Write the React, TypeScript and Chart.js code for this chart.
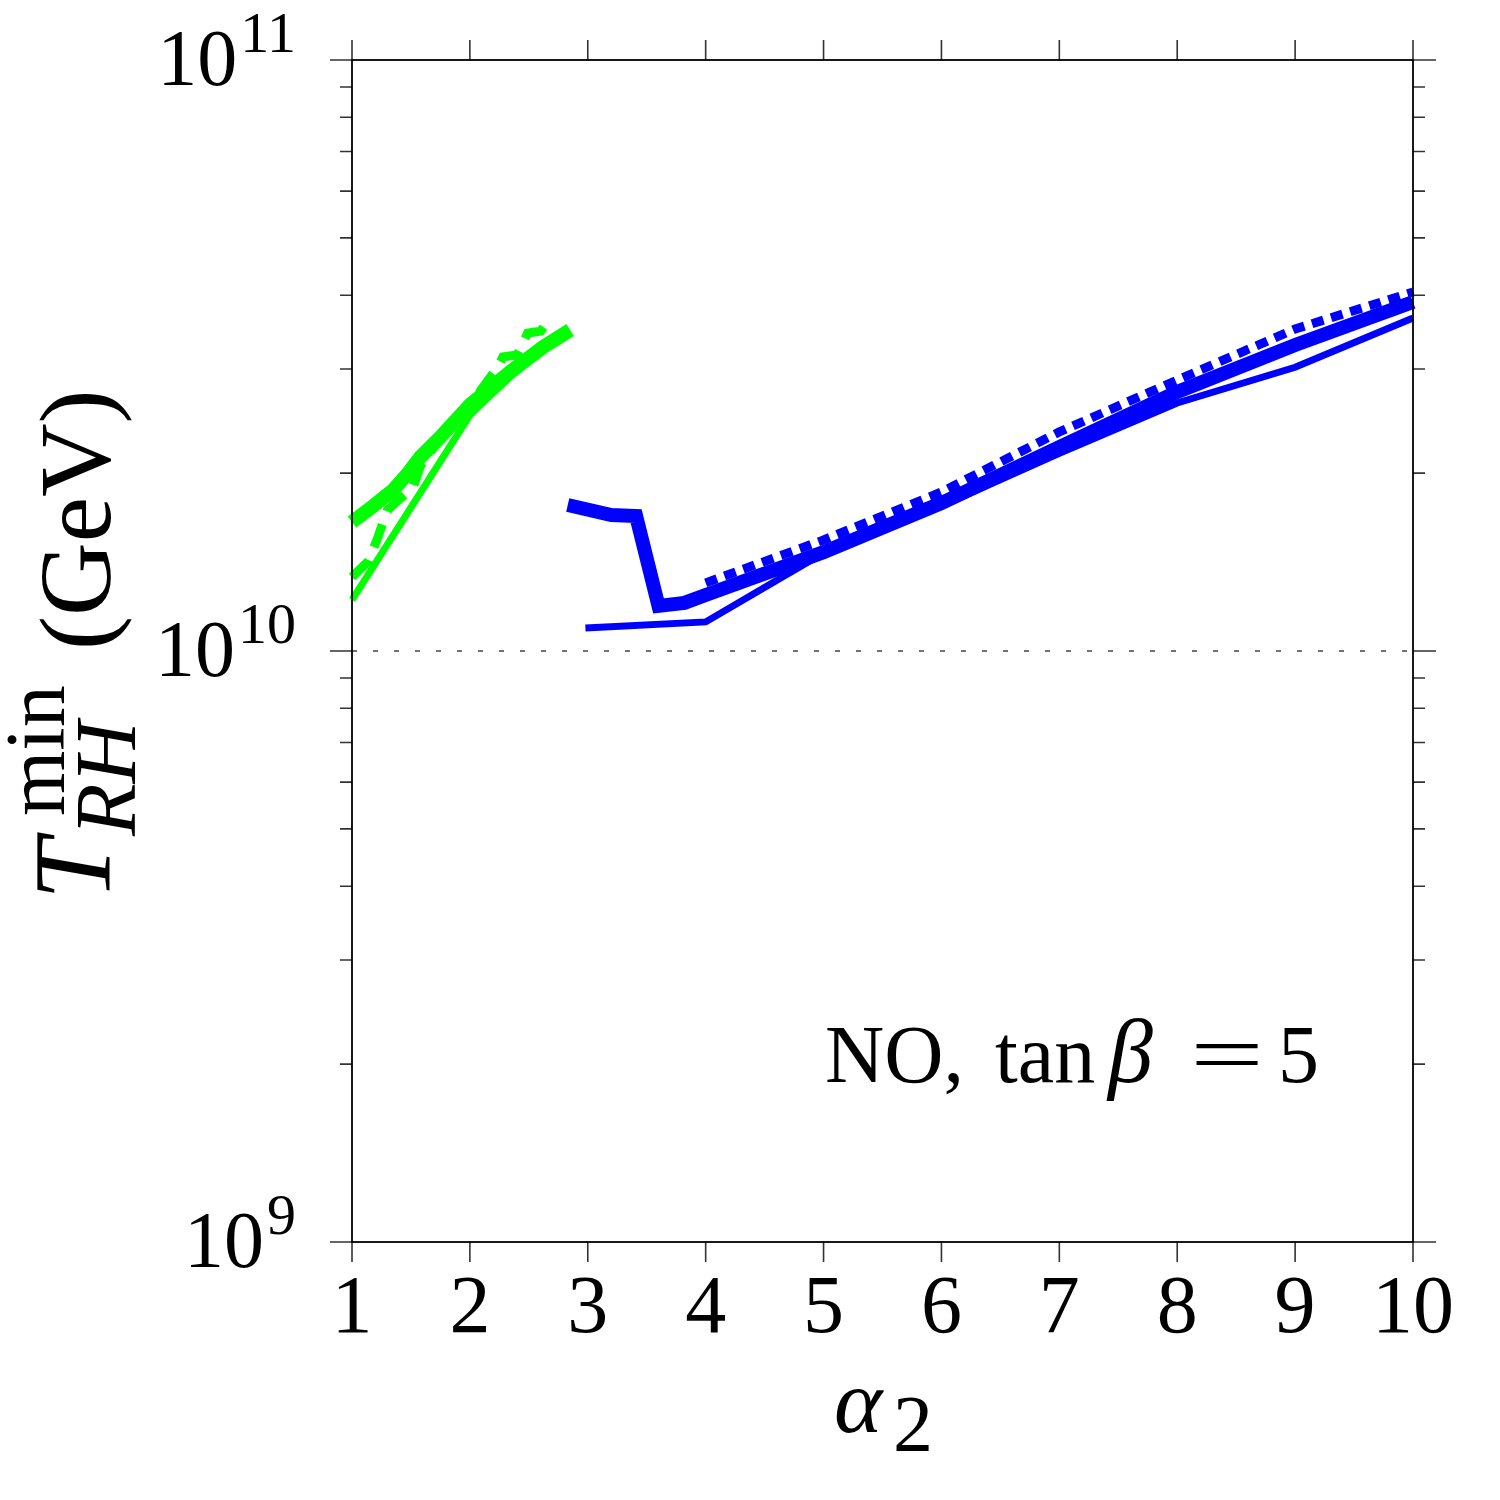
import React, { useEffect, useRef } from "react";
import { Chart, registerables } from "chart.js";

Chart.register(...registerables);

// ---------- data ----------
const xTickValues = [1, 2, 3, 4, 5, 6, 7, 8, 9, 10];
const xTickLabels = ["1", "2", "3", "4", "5", "6", "7", "8", "9", "10"];
const yMajorTicks = [1e9, 1e10, 1e11];
const yMajorExponents = ["9", "10", "11"];
const yMinorMultipliers = [2, 3, 4, 5, 6, 7, 8, 9];

const blueThickX = [2.83, 3.2, 3.41, 3.6, 3.82, 4, 5, 6, 7, 8, 9, 10];
const blueThickY = [1.766e10, 1.699e10, 1.692e10, 1.192e10, 1.206e10, 1.244e10, 1.47e10, 1.78e10, 2.214e10, 2.743e10, 3.294e10, 3.895e10];

const blueThinX = [2.98, 4, 5, 6, 7, 8, 9, 10];
const blueThinY = [1.094e10, 1.12e10, 1.465e10, 1.76e10, 2.16e10, 2.628e10, 3.02e10, 3.66e10];

const blueDotX = [4, 5, 6, 7, 8, 9, 10];
const blueDotY = [1.304e10, 1.541e10, 1.858e10, 2.348e10, 2.874e10, 3.506e10, 4.049e10];

const greenThickX = [1, 1.18, 1.35, 1.47, 1.58, 1.75, 2, 2.34, 2.62, 2.85];
const greenThickY = [1.653e10, 1.759e10, 1.873e10, 1.993e10, 2.13e10, 2.302e10, 2.608e10, 2.966e10, 3.268e10, 3.492e10];

const greenThinX = [1, 2, 2.34, 2.76];
const greenThinY = [1.22e10, 2.508e10, 2.908e10, 3.398e10];

const greenDashX = [1, 1.14, 1.22, 1.3, 1.52, 1.58, 1.79, 2, 2.23, 2.28, 2.4, 2.49, 2.6, 2.68];
const greenDashY = [1.334e10, 1.42e10, 1.559e10, 1.732e10, 1.895e10, 2.056e10, 2.348e10, 2.608e10, 3.011e10, 3.145e10, 3.169e10, 3.451e10, 3.478e10, 3.66e10];

const refLineX = [1, 10];
const refLineY = [1e10, 1e10];

const BLUE = "#0000ff";
const GREEN = "#00ff00";
const SERIF = "'Liberation Serif', 'DejaVu Serif', serif";

const pts = (xs: number[], ys: number[]) => xs.map((x, i) => ({ x, y: ys[i] }));

const decoPlugin = {
  id: "deco",
  afterDatasetsDraw(chart: any) {
    const ctx: CanvasRenderingContext2D = chart.ctx;
    const { left, right, top, bottom } = chart.chartArea;
    const xs = chart.scales.x;
    const ys = chart.scales.y;
    ctx.save();

    // tick marks
    ctx.strokeStyle = "#333";
    ctx.lineWidth = 1.6;
    ctx.beginPath();
    for (const v of xTickValues) {
      const px = xs.getPixelForValue(v);
      ctx.moveTo(px, bottom);
      ctx.lineTo(px, bottom + 20);
      ctx.moveTo(px, top);
      ctx.lineTo(px, top - 20);
    }
    for (const m of yMajorTicks) {
      const py = ys.getPixelForValue(m);
      ctx.moveTo(left - 22, py);
      ctx.lineTo(left, py);
      ctx.moveTo(right, py);
      ctx.lineTo(right + 23, py);
      if (m < yMajorTicks[yMajorTicks.length - 1]) {
        for (const k of yMinorMultipliers) {
          const pm = ys.getPixelForValue(m * k);
          ctx.moveTo(left - 12, pm);
          ctx.lineTo(left, pm);
          ctx.moveTo(right, pm);
          ctx.lineTo(right + 12, pm);
        }
      }
    }
    ctx.stroke();

    // frame
    ctx.strokeStyle = "#000";
    ctx.lineWidth = 1.8;
    ctx.strokeRect(left, top, right - left, bottom - top);

    ctx.fillStyle = "#000";
    // x tick labels
    ctx.font = `82px ${SERIF}`;
    ctx.textAlign = "center";
    ctx.textBaseline = "alphabetic";
    xTickValues.forEach((v, i) => {
      ctx.fillText(xTickLabels[i], xs.getPixelForValue(v), bottom + 90);
    });

    // y tick labels 10^n
    yMajorTicks.forEach((m, i) => {
      const py = ys.getPixelForValue(m);
      const rightEdge = left - 56;
      ctx.textAlign = "right";
      ctx.font = `58px ${SERIF}`;
      const sw = ctx.measureText(yMajorExponents[i]).width;
      ctx.fillText(yMajorExponents[i], rightEdge, py - 8);
      ctx.font = `80px ${SERIF}`;
      ctx.fillText("10", rightEdge - sw - 3, py + 25);
    });

    // x title alpha_2
    ctx.textAlign = "left";
    ctx.font = `italic 92px ${SERIF}`;
    ctx.fillText("α", 834, 1432);
    ctx.font = `80px ${SERIF}`;
    ctx.fillText("2", 893, 1451);

    // y title
    ctx.save();
    ctx.translate(110, 900);
    ctx.rotate(-Math.PI / 2);
    ctx.textAlign = "left";
    ctx.font = `italic 110px ${SERIF}`;
    ctx.fillText("T", 0, 0);
    ctx.font = `italic 86px ${SERIF}`;
    ctx.fillText("RH", 64, 25);
    ctx.font = `84px ${SERIF}`;
    ctx.fillText("min", 84, -46);
    ctx.font = `102px ${SERIF}`;
    ctx.fillText("(GeV)", 250, 0);
    ctx.restore();

    // annotation
    ctx.textAlign = "left";
    ctx.font = `82px ${SERIF}`;
    ctx.fillText("NO,", 825, 1082);
    ctx.fillText("tan", 995, 1082);
    ctx.font = `italic 90px ${SERIF}`;
    ctx.fillText("β", 1108, 1082);
    ctx.save();
    ctx.translate(1190, 1082);
    ctx.scale(1.6, 1);
    ctx.font = `82px ${SERIF}`;
    ctx.fillText("=", 0, 0);
    ctx.restore();
    ctx.font = `82px ${SERIF}`;
    ctx.fillText("5", 1278, 1082);

    ctx.restore();
  },
};

export default function App() {
  const canvasRef = useRef<HTMLCanvasElement | null>(null);

  useEffect(() => {
    if (!canvasRef.current) return;
    const common = {
      pointRadius: 0,
      tension: 0,
      fill: false,
      borderCapStyle: "butt" as const,
      borderJoinStyle: "miter" as const,
      clip: false as any,
    };
    const chart = new Chart(canvasRef.current, {
      type: "line",
      data: {
        datasets: [
          { ...common, label: "blue thick", data: pts(blueThickX, blueThickY), borderColor: BLUE, borderWidth: 14 },
          { ...common, label: "blue dotted", data: pts(blueDotX, blueDotY), borderColor: BLUE, borderWidth: 9, borderDash: [12, 8] },
          { ...common, label: "blue thin", data: pts(blueThinX, blueThinY), borderColor: BLUE, borderWidth: 7 },
          { ...common, label: "green thick", data: pts(greenThickX, greenThickY), borderColor: GREEN, borderWidth: 14 },
          { ...common, label: "green thin", data: pts(greenThinX, greenThinY), borderColor: GREEN, borderWidth: 7 },
          { ...common, label: "green dashed", data: pts(greenDashX, greenDashY), borderColor: GREEN, borderWidth: 9, borderDash: [24, 14] },
          { ...common, label: "ref", data: pts(refLineX, refLineY), borderColor: "#444", borderWidth: 1.5, borderDash: [5, 16], clip: true as any },
        ],
      },
      options: {
        animation: false,
        responsive: false,
        maintainAspectRatio: false,
        devicePixelRatio: 1,
        layout: { padding: { left: 352, right: 87, top: 60, bottom: 258 } },
        plugins: { legend: { display: false }, tooltip: { enabled: false } },
        scales: {
          x: { type: "linear", min: 1, max: 10, display: false },
          y: { type: "logarithmic", min: 1e9, max: 1e11, display: false },
        },
      },
      plugins: [decoPlugin],
    });
    return () => chart.destroy();
  }, []);

  return (
    <div style={{ position: "absolute", left: 0, top: 0, width: 1500, height: 1500, background: "#fff" }}>
      <canvas ref={canvasRef} width={1500} height={1500} style={{ width: 1500, height: 1500 }} />
    </div>
  );
}
